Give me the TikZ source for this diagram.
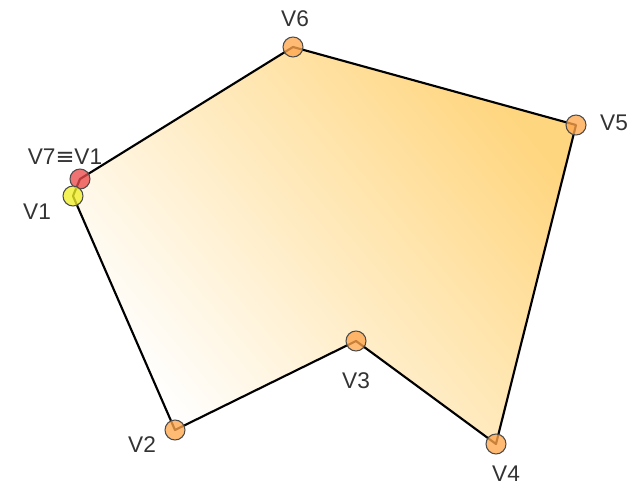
\documentclass[tikz,border=0pt]{standalone}
\usepackage{fontspec}
\setmainfont{Liberation Sans}
\newfontfamily\symfont{DejaVu Sans}
\begin{document}
\begin{tikzpicture}[x=0.75pt,y=-0.75pt,
  vlabel/.style={text=black!80, font=\fontsize{17}{18}\selectfont, inner sep=0pt},
  vdot/.style={circle, draw=black!70, line width=0.8pt, minimum size=15pt, inner sep=0pt, fill opacity=0.78},
  orangedot/.style={vdot, fill=orange!70!white},
  edge/.style={line width=1.6pt, black, line join=round}]
\useasboundingbox (0,0) rectangle (632,485);
\coordinate (V7) at (80,179);
\coordinate (V1) at (73,196);
\coordinate (V2) at (175,430);
\coordinate (V3) at (356,341);
\coordinate (V4) at (496,444);
\coordinate (V5) at (576,125);
\coordinate (V6) at (293,47);
\shade[top color={rgb,255:red,255;green,214;blue,128}, bottom color=white, shading angle=-50]
  (V7) -- (V1) -- (V2) -- (V3) -- (V4) -- (V5) -- (V6) -- cycle;
\draw[edge] (V7) -- (V1) -- (V2) -- (V3) -- (V4) -- (V5) -- (V6) -- cycle;
\node[orangedot] (d2) at (V2) {};
\node[orangedot] (d3) at (V3) {};
\node[orangedot] (d4) at (V4) {};
\node[orangedot] (d5) at (V5) {};
\node[orangedot] (d6) at (V6) {};
\node[vdot, fill={rgb,255:red,235;green,75;blue,75}] (d7) at (V7) {};
\node[vdot, fill={rgb,255:red,240;green,240;blue,40}] (d1) at (V1) {};
\node[vlabel] (l6) at (295,19) {V6};
\node[vlabel] (l5) at (614,123) {V5};
\node[vlabel] (l3) at (356,381) {V3};
\node[vlabel] (l2) at (142,445) {V2};
\node[vlabel] (l4) at (506,474) {V4};
\node[vlabel] (l1) at (37,212) {V1};
\node[vlabel] (l7) at (65,157) {V7{\symfont ≡}V1};
\end{tikzpicture}
\end{document}
